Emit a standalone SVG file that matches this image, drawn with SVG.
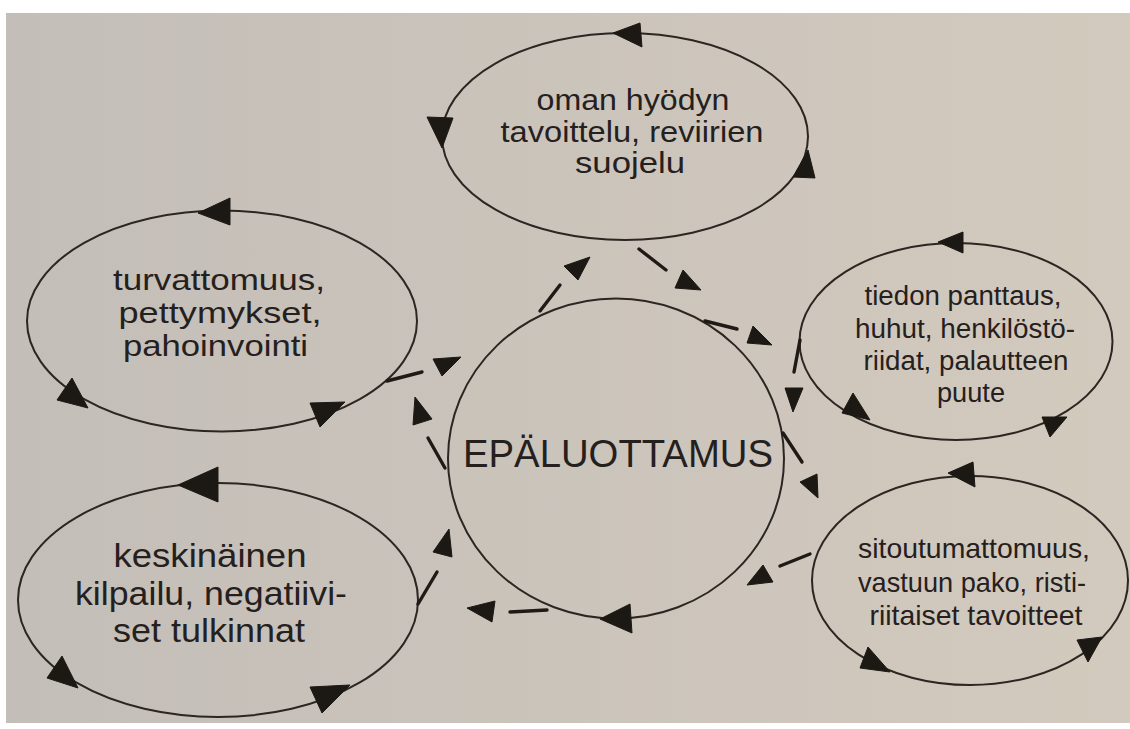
<svg xmlns="http://www.w3.org/2000/svg" width="1130" height="729" viewBox="0 0 1130 729">
<defs>
<linearGradient id="page" x1="0" y1="0" x2="1" y2="0">
<stop offset="0" stop-color="#c3beb8"/>
<stop offset="0.5" stop-color="#cbc4bb"/>
<stop offset="1" stop-color="#d3cabe"/>
</linearGradient>
</defs>
<style>
.loop{fill:none;stroke:#2b2622;stroke-width:2}
.ah{fill:#1c1814;stroke:#1c1814;stroke-width:1;stroke-linejoin:round}
.dash{stroke:#1f1a16;stroke-width:3.4;stroke-linecap:round}
.t{font-family:"Liberation Sans",Arial,Helvetica,sans-serif;fill:#25201d;text-anchor:middle}
</style>
<rect width="1130" height="729" fill="#ffffff"/>
<rect x="6" y="13" width="1124" height="710" fill="url(#page)"/>

<g id="node-top">
<ellipse class="loop" cx="625" cy="136.5" rx="183" ry="103.5"/>
<polygon class="ah" points="613,33 640,23 642,47"/>
<polygon class="ah" points="427,117 453,118 442,148"/>
<polygon class="ah" points="808,150 793,177 815,178"/>
<g class="t" font-size="29">
<text x="633" y="110" textLength="193" lengthAdjust="spacingAndGlyphs">oman hyödyn</text>
<text x="632" y="141.5" textLength="263" lengthAdjust="spacingAndGlyphs">tavoittelu, reviirien</text>
<text x="630" y="173" textLength="110" lengthAdjust="spacingAndGlyphs">suojelu</text>
</g>
</g>

<g id="node-left-top">
<ellipse class="loop" cx="222" cy="321" rx="195" ry="110.5"/>
<polygon class="ah" points="198,213 230,198 230,225"/>
<polygon class="ah" points="72,378 57,400 88,408"/>
<polygon class="ah" points="310,403 345,402 320,427"/>
<g class="t" font-size="30">
<text x="219" y="290" textLength="212" lengthAdjust="spacingAndGlyphs">turvattomuus,</text>
<text x="220" y="322.5" textLength="203" lengthAdjust="spacingAndGlyphs">pettymykset,</text>
<text x="215.5" y="356" textLength="185" lengthAdjust="spacingAndGlyphs">pahoinvointi</text>
</g>
</g>

<g id="node-left-bottom">
<ellipse class="loop" cx="218" cy="600" rx="200" ry="117"/>
<polygon class="ah" points="178,485 218,467 218,502"/>
<polygon class="ah" points="62,656 47,678 78,688"/>
<polygon class="ah" points="310,687 350,685 322,713"/>
<g class="t" font-size="33">
<text x="210" y="567" textLength="193" lengthAdjust="spacingAndGlyphs">keskinäinen</text>
<text x="211" y="605" textLength="272" lengthAdjust="spacingAndGlyphs">kilpailu, negatiivi-</text>
<text x="209" y="642" textLength="192" lengthAdjust="spacingAndGlyphs">set tulkinnat</text>
</g>
</g>

<g id="node-right-top">
<ellipse class="loop" cx="956" cy="341.5" rx="156.5" ry="98.5"/>
<polygon class="ah" points="938,242 963,232 963,253"/>
<polygon class="ah" points="853,393 842,413 870,420"/>
<polygon class="ah" points="1042,417 1067,417 1050,437"/>
<g class="t" font-size="27">
<text x="963" y="305" textLength="197" lengthAdjust="spacingAndGlyphs">tiedon panttaus,</text>
<text x="965" y="338" textLength="220" lengthAdjust="spacingAndGlyphs">huhut, henkilöstö-</text>
<text x="966" y="370" textLength="205" lengthAdjust="spacingAndGlyphs">riidat, palautteen</text>
<text x="971" y="402" textLength="68" lengthAdjust="spacingAndGlyphs">puute</text>
</g>
</g>

<g id="node-right-bottom">
<ellipse class="loop" cx="970" cy="580.5" rx="158" ry="104.5"/>
<polygon class="ah" points="948,473 973,462 975,487"/>
<polygon class="ah" points="868,647 860,668 890,672"/>
<polygon class="ah" points="1077,640 1102,637 1088,662"/>
<g class="t" font-size="28">
<text x="974" y="558" textLength="232" lengthAdjust="spacingAndGlyphs">sitoutumattomuus,</text>
<text x="972" y="592" textLength="228" lengthAdjust="spacingAndGlyphs">vastuun pako, risti-</text>
<text x="976" y="625" textLength="213" lengthAdjust="spacingAndGlyphs">riitaiset tavoitteet</text>
</g>
</g>

<g id="node-center">
<ellipse class="loop" cx="616" cy="458.5" rx="168" ry="160"/>
<polygon class="ah" points="600,619 630,604 632,633"/>
<text class="t" font-size="38" x="618" y="467" textLength="310" lengthAdjust="spacingAndGlyphs">EPÄLUOTTAMUS</text>
</g>

<g id="connectors">
<line class="dash" x1="540" y1="311" x2="560" y2="285"/>
<polygon class="ah" points="564,266 590,257 578,280"/>
<line class="dash" x1="639" y1="249" x2="666" y2="270"/>
<polygon class="ah" points="683,270 701,290 675,288"/>
<line class="dash" x1="705" y1="321" x2="737" y2="329"/>
<polygon class="ah" points="753,326 772,345 747,343"/>
<line class="dash" x1="800" y1="340" x2="794" y2="372"/>
<polygon class="ah" points="785,388 803,388 793,412"/>
<line class="dash" x1="783" y1="433" x2="802" y2="462"/>
<polygon class="ah" points="800,482 817,474 818,498"/>
<line class="dash" x1="810" y1="554" x2="780" y2="566"/>
<polygon class="ah" points="763,565 773,582 747,585"/>
<line class="dash" x1="547" y1="610" x2="510" y2="612"/>
<polygon class="ah" points="495,601 492,622 467,608"/>
<line class="dash" x1="418" y1="604" x2="437" y2="572"/>
<polygon class="ah" points="449,529 452,557 433,552"/>
<line class="dash" x1="445" y1="468" x2="428" y2="438"/>
<polygon class="ah" points="415,397 432,419 413,425"/>
<line class="dash" x1="387" y1="381" x2="422" y2="372"/>
<polygon class="ah" points="433,359 461,357 442,376"/>
</g>
</svg>
